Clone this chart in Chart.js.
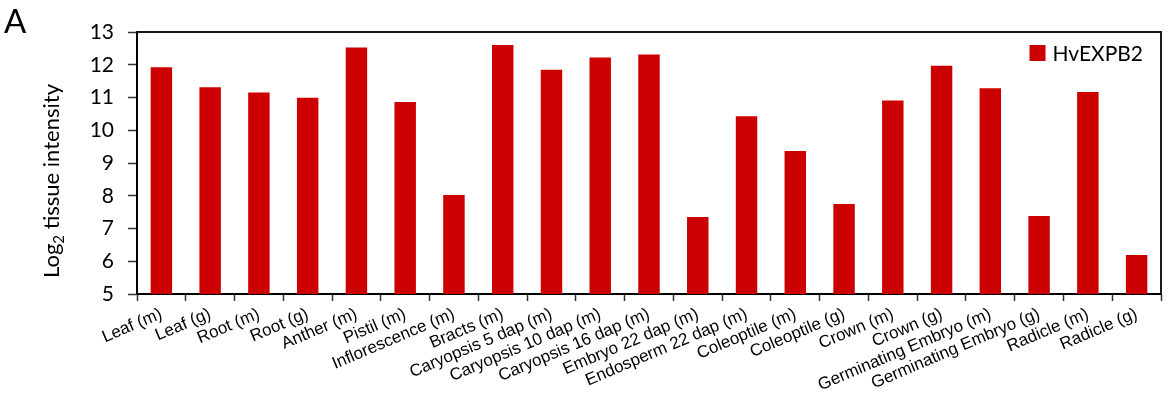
<!DOCTYPE html>
<html>
<head>
<meta charset="utf-8">
<script src="https://cdn.jsdelivr.net/npm/chart.js@4.4.1/dist/chart.umd.min.js"></script>
<style>
  html, body { margin: 0; padding: 0; background: #fff; }
  #wrap { position: relative; width: 1171px; height: 400px; }
  #panel { position: absolute; left: 4px; top: 0px; font: 33px Lato, "Open Sans", sans-serif; color: #000; }
  canvas { position: absolute; left: 0; top: 0; }
</style>
</head>
<body>
<div id="wrap">
  <canvas id="c" width="1171" height="400"></canvas>
  <div id="panel">A</div>
</div>
<script>
// Tissue names (m = mature, g = germinating)
const tissues = [
  'Leaf (m)', 'Leaf (g)', 'Root (m)', 'Root (g)', 'Anther (m)', 'Pistil (m)',
  'Inflorescence (m)', 'Bracts (m)', 'Caryopsis 5 dap (m)', 'Caryopsis 10 dap (m)',
  'Caryopsis 16 dap (m)', 'Embryo 22 dap (m)', 'Endosperm 22 dap (m)',
  'Coleoptile (m)', 'Coleoptile (g)', 'Crown (m)', 'Crown (g)',
  'Germinating Embryo (m)', 'Germinating Embryo (g)', 'Radicle (m)', 'Radicle (g)'
];

// Log2 expression of HvEXPB2 in each tissue
const hvexpb2 = [
  11.92, 11.31, 11.15, 10.99, 12.53, 10.86,
  8.02, 12.6, 11.85, 12.22,
  12.31, 7.35, 10.43,
  9.37, 7.75, 10.91, 11.97,
  11.28, 7.38, 11.17, 6.19
];

const yTicks = [5, 6, 7, 8, 9, 10, 11, 12, 13];
const seriesName = 'HvEXPB2';
const barColor = '#cc0000';
const uiFont = 'Lato, "Open Sans", sans-serif';

// Frame, legend and y-axis title drawn on top of the plot
const decorations = {
  id: 'decorations',
  afterDraw(chart) {
    const a = chart.chartArea, ctx = chart.ctx;
    ctx.save();

    // top and right edges of the plot box
    ctx.strokeStyle = '#1a1a1a';
    ctx.lineWidth = 2;
    ctx.beginPath();
    ctx.moveTo(a.left, a.top);
    ctx.lineTo(a.right, a.top);
    ctx.lineTo(a.right, a.bottom);
    ctx.stroke();

    // legend, top right inside the plot
    const name = chart.data.datasets[0].label;
    ctx.font = '21px ' + uiFont;
    ctx.textBaseline = 'middle';
    ctx.textAlign = 'left';
    const tw = ctx.measureText(name).width;
    const tx = a.right - 18 - tw;
    const cy = a.top + 21;
    ctx.fillStyle = chart.data.datasets[0].backgroundColor;
    ctx.fillRect(tx - 23, cy - 8, 16, 16);
    ctx.fillStyle = '#000';
    ctx.fillText(name, tx, cy + 1);

    // y-axis title with subscript 2
    ctx.translate(52, 181);
    ctx.rotate(-Math.PI / 2);
    const big = '22px ' + uiFont, small = '15px ' + uiFont;
    const p1 = 'Log', p2 = '2', p3 = ' tissue intensity';
    ctx.font = big; const w1 = ctx.measureText(p1).width, w3 = ctx.measureText(p3).width;
    ctx.font = small; const w2 = ctx.measureText(p2).width;
    let x = -(w1 + w2 + w3) / 2;
    ctx.textBaseline = 'alphabetic';
    ctx.font = big; ctx.fillText(p1, x, 7); x += w1;
    ctx.font = small; ctx.fillText(p2, x, 12); x += w2;
    ctx.font = big; ctx.fillText(p3, x, 7);

    ctx.restore();
  }
};

new Chart(document.getElementById('c'), {
  type: 'bar',
  data: {
    labels: tissues,
    datasets: [{
      label: seriesName,
      data: hvexpb2,
      backgroundColor: barColor,
      borderWidth: 0,
      barPercentage: 0.44,
      categoryPercentage: 1.0
    }]
  },
  options: {
    responsive: false,
    animation: false,
    layout: { padding: { left: 30, top: 32, right: 10, bottom: 0 } },
    plugins: {
      legend: { display: false },
      tooltip: { enabled: false }
    },
    scales: {
      x: {
        afterFit(s) { s.height = 106; },
        grid: {
          offset: true,
          drawOnChartArea: false,
          drawTicks: true,
          tickLength: 7,
          tickWidth: 1.5,
          tickColor: '#333'
        },
        border: { display: true, color: '#000', width: 2 },
        ticks: {
          autoSkip: false,
          maxRotation: 23,
          minRotation: 23,
          padding: 3,
          color: '#000',
          font: { family: '"Liberation Sans", Arial, sans-serif', size: 17 }
        }
      },
      y: {
        min: 5,
        max: 13,
        afterFit(s) { s.width = 107; },
        afterBuildTicks(s) { s.ticks = yTicks.map(v => ({ value: v })); },
        grid: {
          drawOnChartArea: false,
          drawTicks: true,
          tickLength: 9,
          tickWidth: 1.5,
          tickColor: '#333'
        },
        border: { display: true, color: '#000', width: 2 },
        title: { display: false },
        ticks: {
          padding: 14,
          color: '#000',
          font: { family: uiFont, size: 21 }
        }
      }
    }
  },
  plugins: [decorations]
});
</script>
</body>
</html>
